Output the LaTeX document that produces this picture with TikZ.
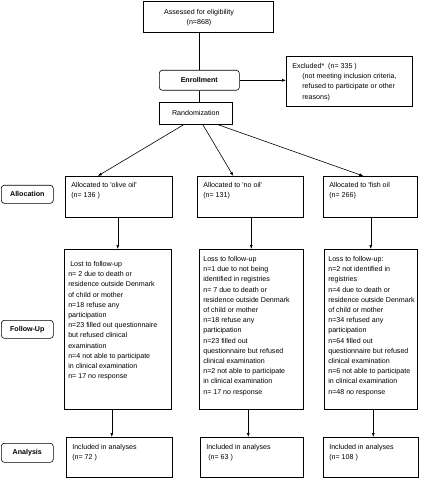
\documentclass[tikz,border=0pt]{standalone}
\usepackage{fontspec}
\newfontfamily\arialfont{Liberation Sans}
\newcommand{\diagfont}{\arialfont\fontsize{7.1}{10.2}\selectfont}
\usetikzlibrary{arrows.meta}
\tikzset{
    boxnode/.style={draw, anchor=north west, inner sep=0pt},
    boxtext/.style={anchor=north west, align=left, inner sep=0pt},
    stagenode/.style={draw, rounded corners=3pt, anchor=north west, inner sep=0pt,
        font=\diagfont\bfseries},
}

\begin{document}
\begin{tikzpicture}[x=1pt, y=-1pt, line width=0.6pt, font=\diagfont,
    >={Latex[length=4pt,width=3pt]}]
        \useasboundingbox (0,0) rectangle (426,478);
        \node[boxnode, minimum width=130pt, minimum height=31pt] (ASSESS) at (143,1) {};
        \node[align=center, inner sep=0pt] (ASSESST) at (199,17.5) {
            Assessed for eligibility\\(n=868)
        };
        \node[stagenode, minimum width=80pt, minimum height=20pt] (ENROLL) at (159,70) {
            Enrollment
        };
        \node[boxnode, minimum width=126pt, minimum height=50pt] (EXCL) at (286,56) {};
        \node[boxtext] (EXCLT) at ([shift={(6,7)}]EXCL.north west) {
            Excluded*\ \ (n= 335 )\\
            \hspace*{10pt}(not meeting inclusion criteria,\\
            \hspace*{10pt}refused to participate or other\\
            \hspace*{10pt}reasons)
        };
        \node[draw, minimum width=73pt, minimum height=22pt, anchor=north west] (RAND) at (159,102) {
            Randomization
        };
        \node[stagenode, minimum width=52pt, minimum height=18pt] (ALLOC) at (1,185) {
            Allocation
        };
        \node[boxnode, minimum width=107pt, minimum height=41pt] (OLIVE) at (65,176) {};
        \node[boxtext] (OLIVET) at ([shift={(6,6)}]OLIVE.north west) {
            Allocated to 'olive oil'\\(n= 136 )
        };
        \node[boxnode, minimum width=106pt, minimum height=41pt] (NOOIL) at (197,176) {};
        \node[boxtext] (NOOILT) at ([shift={(6,6)}]NOOIL.north west) {
            Allocated to 'no oil'\\(n= 131)
        };
        \node[boxnode, minimum width=94pt, minimum height=41pt] (FISH) at (323,176) {};
        \node[boxtext] (FISHT) at ([shift={(6,6)}]FISH.north west) {
            Allocated to 'fish oil\\(n= 266)
        };
        \node[stagenode, minimum width=52pt, minimum height=18pt] (FOLLOW) at (1,320) {
            Follow-Up
        };
        \node[boxnode, minimum width=107pt, minimum height=160pt] (FUOLIVE) at (64,249) {};
        \node[boxtext] (FUOLIVET) at ([shift={(4,12)}]FUOLIVE.north west) {
            \hspace*{2pt}Lost to follow-up\\
            n= 2 due to death or\\
            residence outside Denmark\\
            of child or mother\\
            n=18 refuse any\\
            participation\\
            n=23 filled out questionnaire\\
            but refused clinical\\
            examination\\
            n=4 not able to participate\\
            in clinical examination\\
            n= 17 no response
        };
        \node[boxnode, minimum width=104pt, minimum height=160pt] (FUNOOIL) at (199,249) {};
        \node[boxtext] (FUNOOILT) at ([shift={(4,7)}]FUNOOIL.north west) {
            Loss to follow-up\\
            n=1 due to not being\\
            identified in registries\\
            n= 7 due to death or\\
            residence outside Denmark\\
            of child or mother\\
            n=18 refuse any\\
            participation\\
            n=23 filled out\\
            questionnaire but refused\\
            clinical examination\\
            n=2 not able to participate\\
            in clinical examination\\
            n= 17 no response
        };
        \node[boxnode, minimum width=93pt, minimum height=160pt] (FUFISH) at (324,249) {};
        \node[boxtext] (FUFISHT) at ([shift={(4,7)}]FUFISH.north west) {
            Loss to follow-up:\\
            n=2 not identified in\\
            registries\\
            n=4 due to death or\\
            residence outside Denmark\\
            of child or mother\\
            n=34 refused any\\
            participation\\
            n=64 filled out\\
            questionnaire but refused\\
            clinical examination\\
            n=6 not able to participate\\
            in clinical examination\\
            n=48 no response
        };
        \node[stagenode, minimum width=52pt, minimum height=19pt] (ANALYSIS) at (1,443) {
            Analysis
        };
        \node[boxnode, minimum width=106pt, minimum height=40pt] (ANOLIVE) at (66,437) {};
        \node[boxtext] (ANOLIVET) at ([shift={(6,7)}]ANOLIVE.north west) {
            Included in analyses\\(n= 72 )
        };
        \node[boxnode, minimum width=103pt, minimum height=40pt] (ANNOOIL) at (200,437) {};
        \node[boxtext] (ANNOOILT) at ([shift={(6,7)}]ANNOOIL.north west) {
            Included in analyses\\\hspace*{2pt}(n= 63 )
        };
        \node[boxnode, minimum width=95pt, minimum height=40pt] (ANFISH) at (323,437) {};
        \node[boxtext] (ANFISHT) at ([shift={(6,7)}]ANFISH.north west) {
            Included in analyses\\(n= 108 )
        };
        \draw (ASSESS.south -| ENROLL.north) -- (ENROLL.north);
        \draw (ENROLL.south) -- (ENROLL.south |- RAND.north);
        \draw[->] (ENROLL.east) -- (ENROLL.east -| EXCL.west);
        \draw[->] ([xshift=-12pt]RAND.south) -- ([xshift=-21pt]OLIVE.north);
        \draw[->] ([xshift=7pt]RAND.south) -- ([xshift=-17pt]NOOIL.north);
        \draw[->] ([xshift=22pt]RAND.south) -- ([xshift=-7pt]FISH.north);
        \draw[->] (OLIVE.south -| FUOLIVE.north) -- (FUOLIVE.north);
        \draw[->] (NOOIL.south -| FUNOOIL.north) -- (FUNOOIL.north);
        \draw[->] (FISH.south -| FUFISH.north) -- (FUFISH.north);
        \draw[->] ([xshift=-6pt]FUOLIVE.south) -- ([xshift=-6pt]FUOLIVE.south |- ANOLIVE.north);
        \draw[->] ([xshift=-3pt]FUNOOIL.south) -- ([xshift=-3pt]FUNOOIL.south |- ANNOOIL.north);
        \draw[->] ([xshift=2.5pt]FUFISH.south) -- ([xshift=2.5pt]FUFISH.south |- ANFISH.north);
\end{tikzpicture}
\end{document}
